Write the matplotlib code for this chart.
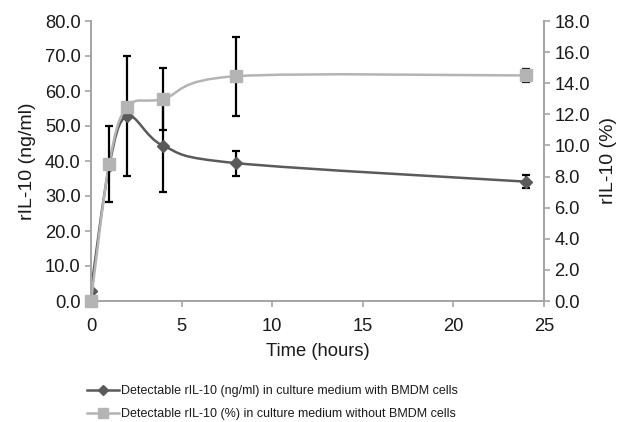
import numpy as np
import matplotlib
matplotlib.use("Agg")
import matplotlib.pyplot as plt
from matplotlib.path import Path
from matplotlib.patches import PathPatch
from matplotlib.lines import Line2D

plt.rcParams['font.family'] = ['Liberation Sans', 'DejaVu Sans']

# Datos
horas = [0, 1, 2, 4, 8, 24]
con_cel = [3.0, 38.5, 52.9, 44.3, 39.4, 34.1]        # ng/ml (eje izquierdo)
con_cel_err = [0.0, 0.0, 17.2, 13.2, 3.6, 1.9]
sin_cel = [0.0, 8.8, 12.5, 13.0, 14.45, 14.5]         # % (eje derecho)
sin_cel_err = [0.0, 2.45, 0.1, 2.0, 2.55, 0.4]

lab1 = "Detectable rIL-10 (ng/ml) in culture medium with BMDM cells"
lab2 = "Detectable rIL-10 (%) in culture medium without BMDM cells"

oscuro = "#5a5a5a"
claro = "#b4b4b4"
gris_eje = "#a6a6a6"


def curva_suave(ax, x, y, color):
    # Curva tipo Excel (Bezier entre puntos)
    x = np.asarray(x, float)
    y = np.asarray(y, float)
    n = len(x)
    verts = [(x[0], y[0])]
    codes = [Path.MOVETO]
    for i in range(n - 1):
        xa, ya = (x[i - 1], y[i - 1]) if i > 0 else (x[i], y[i])
        xd, yd = (x[i + 2], y[i + 2]) if i + 2 < n else (x[i + 1], y[i + 1])
        c1 = (x[i] + (x[i + 1] - xa) / 6, y[i] + (y[i + 1] - ya) / 6)
        c2 = (x[i + 1] - (xd - x[i]) / 6, y[i + 1] - (yd - y[i]) / 6)
        verts += [c1, c2, (x[i + 1], y[i + 1])]
        codes += [Path.CURVE4] * 3
    ax.add_patch(PathPatch(Path(verts, codes), fill=False, edgecolor=color,
                           lw=1.8, zorder=2))


fig = plt.figure(figsize=(6.19, 4.22), dpi=100)
ax = fig.add_axes([91 / 619, 1 - 301 / 422, 453 / 619, 280 / 422])
ax2 = ax.twinx()

curva_suave(ax, horas, con_cel, oscuro)
ax.errorbar(horas, con_cel, yerr=con_cel_err, fmt='none', ecolor='black',
            elinewidth=1.6, capsize=3, capthick=1.6, zorder=3)
ax.plot(horas, con_cel, ls='none', marker='D', ms=6, color=oscuro, zorder=4)

curva_suave(ax2, horas, sin_cel, claro)
ax2.errorbar(horas, sin_cel, yerr=sin_cel_err, fmt='none', ecolor='black',
             elinewidth=1.6, capsize=3, capthick=1.6, zorder=3)
ax2.plot(horas, sin_cel, ls='none', marker='s', ms=8, color=claro, zorder=4,
         clip_on=False)

ax.set_xlim(0, 25)
ax.set_ylim(0, 80)
ax2.set_ylim(0, 18)
ax.set_xticks(np.arange(0, 26, 5))
ax.set_yticks(np.arange(0, 81, 10))
ax2.set_yticks(np.arange(0, 19, 2))
ax.set_yticklabels([f"{v:.1f}" for v in np.arange(0, 81, 10)])
ax2.set_yticklabels([f"{v:.1f}" for v in np.arange(0, 19, 2)])

for a in (ax, ax2):
    a.spines['top'].set_visible(False)
    for s in ('left', 'right', 'bottom'):
        a.spines[s].set_color(gris_eje)
        a.spines[s].set_linewidth(1.3)
    a.tick_params(colors=gris_eje, labelcolor='#1a1a1a', labelsize=13.2,
                  length=4, width=1.2)
ax.tick_params(axis='x', pad=8)

ax.set_ylabel("rIL-10 (ng/ml)", fontsize=14, color='#1a1a1a', labelpad=6)
ax2.set_ylabel("rIL-10 (%)", fontsize=14, color='#1a1a1a', labelpad=7)
ax.set_xlabel("Time (hours)", fontsize=13.2, color='#1a1a1a', labelpad=6)

h1 = Line2D([], [], color=oscuro, lw=1.8, marker='D', ms=5)
h2 = Line2D([], [], color=claro, lw=1.8, marker='s', ms=7)
fig.legend([h1, h2], [lab1, lab2], loc='upper left',
           bbox_to_anchor=(76 / 619, 1 - 374 / 422), frameon=False,
           fontsize=9, handlelength=2.5, handletextpad=0.2,
           labelspacing=0.85, labelcolor='#1a1a1a')

fig.savefig("out.png", dpi=100)
